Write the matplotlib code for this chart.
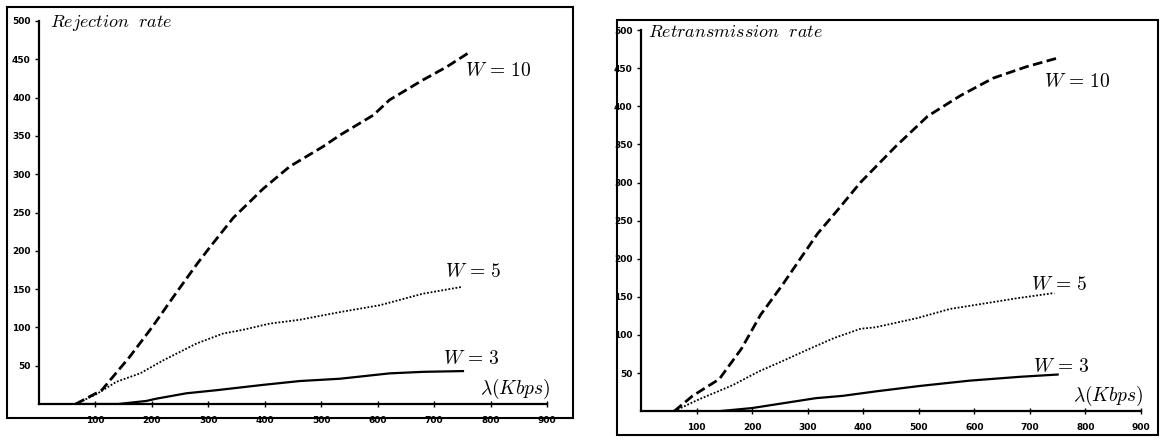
import matplotlib
matplotlib.use("Agg")
import matplotlib.pyplot as plt
from matplotlib.patches import Rectangle

plt.rcParams['mathtext.fontset'] = 'cm'

## Rejection rate (left panel)
rej_w10_x = [65, 111, 161, 200, 240, 280, 303, 344, 397, 444, 503, 533, 592, 621, 680, 722, 760]
rej_w10_y = [0, 18, 62, 100, 142, 183, 205, 243, 281, 310, 336, 351, 377, 397, 423, 440, 458]
rej_w5_x = [65, 102, 137, 179, 220, 279, 326, 362, 409, 462, 533, 604, 680, 750]
rej_w5_y = [0, 13, 29, 40, 57, 79, 92, 97, 105, 110, 120, 129, 144, 153]
rej_w3_x = [65, 140, 190, 208, 261, 314, 397, 462, 533, 621, 680, 751]
rej_w3_y = [0, 0, 4, 7, 14, 18, 25, 30, 33, 40, 42, 43]

## Retransmission rate (right panel)
ret_w10_x = [60, 93, 141, 181, 215, 255, 284, 318, 353, 395, 458, 516, 575, 634, 694, 753]
ret_w10_y = [0, 20, 42, 82, 126, 166, 197, 233, 263, 300, 347, 387, 414, 437, 452, 464]
ret_w5_x = [60, 100, 165, 212, 259, 301, 348, 395, 422, 497, 556, 616, 676, 744]
ret_w5_y = [0, 14, 34, 52, 67, 81, 96, 108, 110, 122, 134, 141, 148, 155]
ret_w3_x = [60, 142, 200, 315, 363, 424, 502, 592, 682, 750]
ret_w3_y = [0, 0, 4, 17, 20, 26, 33, 40, 45, 48]

x_ticks = [100, 200, 300, 400, 500, 600, 700, 800, 900]
y_ticks = [50, 100, 150, 200, 250, 300, 350, 400, 450, 500]


def setup_axis(ax):
	for s in ['top', 'right']:
		ax.spines[s].set_visible(False)
	for s in ['left', 'bottom']:
		ax.spines[s].set_linewidth(1.6)
	ax.set_xlim(0, 900)
	ax.set_ylim(0, 500)
	ax.set_xticks(x_ticks)
	ax.set_yticks(y_ticks)
	ax.tick_params(axis='x', direction='inout', length=5, width=1, pad=6, labelsize=6.5)
	ax.tick_params(axis='y', direction='out', length=3, width=1, pad=3, labelsize=6.5)
	for lab in ax.get_xticklabels() + ax.get_yticklabels():
		lab.set_fontweight('bold')


def draw_panel(ax, w10, w5, w3, title, lab_pos):
	ax.plot(w10[0], w10[1], color='k', lw=2.0, ls=(0, (3.5, 1.6)))
	ax.plot(w5[0], w5[1], color='k', lw=1.3, ls=(0, (1, 1)))
	ax.plot(w3[0], w3[1], color='k', lw=1.6, ls='-')
	setup_axis(ax)
	ax.text(lab_pos[0][0], lab_pos[0][1], r'$W\,=\,10$', fontsize=14, va='center', ha='left')
	ax.text(lab_pos[1][0], lab_pos[1][1], r'$W\,=\,5$', fontsize=14, va='center', ha='left')
	ax.text(lab_pos[2][0], lab_pos[2][1], r'$W\,=\,3$', fontsize=14, va='center', ha='left')
	ax.text(905, 20, r'$\lambda(Kbps)$', fontsize=14, va='center', ha='right')
	ax.text(lab_pos[3], 498, title, fontsize=13, va='center', ha='left')


fig = plt.figure(figsize=(11.62, 4.43), dpi=100)

## outer frames around each panel
fig.patches.append(Rectangle((0.006, 0.056), 0.487, 0.928, transform=fig.transFigure,
	fill=False, lw=1.5, ec='k'))
fig.patches.append(Rectangle((0.531, 0.018), 0.4656, 0.937, transform=fig.transFigure,
	fill=False, lw=1.5, ec='k'))

ax1 = fig.add_axes([0.0336, 0.088, 0.4372, 0.8646])
draw_panel(ax1, (rej_w10_x, rej_w10_y), (rej_w5_x, rej_w5_y), (rej_w3_x, rej_w3_y),
	r'$Rejection\ \ rate$', [(755, 436), (719, 173), (716, 60), 20])

ax2 = fig.add_axes([0.5516, 0.072, 0.4303, 0.860])
draw_panel(ax2, (ret_w10_x, ret_w10_y), (ret_w5_x, ret_w5_y), (ret_w3_x, ret_w3_y),
	r'$Retransmission\ \ rate$', [(725, 432), (702, 166), (706, 58), 13])

fig.savefig('out.png', dpi=100, facecolor='white')
